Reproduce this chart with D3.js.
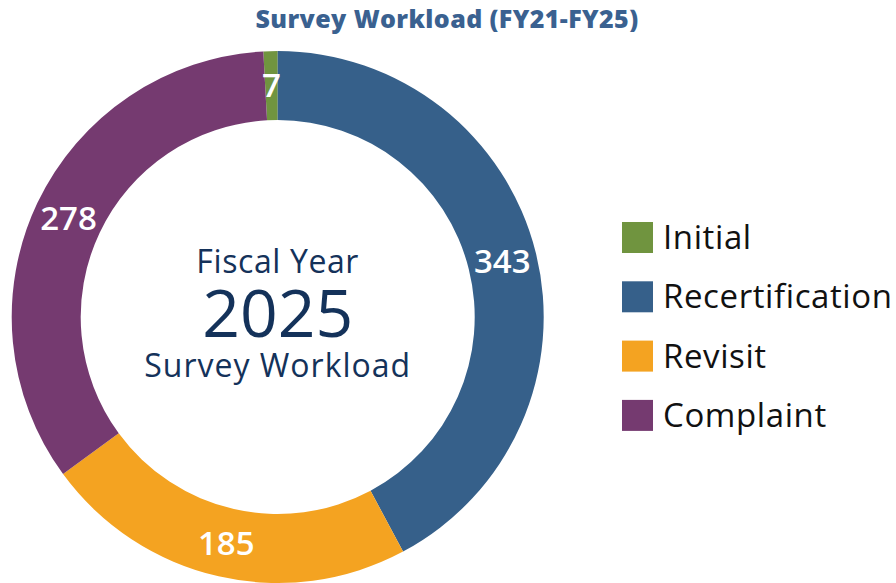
<!DOCTYPE html>
<html>
<head>
<meta charset="utf-8">
<script src="https://d3js.org/d3.v7.min.js"></script>
<style>
  body { margin: 0; background: #fff; }
  text { font-family: "Open Sans", Lato, sans-serif; }
</style>
</head>
<body>
<svg width="896" height="583"></svg>
<script>
 // chart data
 var categories = ["Initial", "Recertification", "Revisit", "Complaint"];
 var values = [7, 343, 185, 278];
 var colors = ["#70943f", "#36608a", "#f4a321", "#753a70"];
 var centerLines = ["Fiscal Year", "2025", "Survey Workload"];
 var title = "Survey Workload (FY21-FY25)";

 var svg = d3.select("svg");
 var cx = 277.7, cy = 317, outerR = 266, innerR = 197;

 svg.append("text")
    .attr("x", 447).attr("y", 28)
    .attr("text-anchor", "middle")
    .attr("font-size", "25px").attr("font-weight", 800)
    .attr("letter-spacing", "0.4px")
    .attr("fill", "#3a6190")
    .text(title);

 // first slice sits just left of 12 o'clock so the second starts at the top
 var offset = values[0] / d3.sum(values) * 2 * Math.PI;
 var pie = d3.pie().sort(null).startAngle(-offset).endAngle(2 * Math.PI - offset);
 var arc = d3.arc().innerRadius(innerR).outerRadius(outerR);
 var arcs = pie(values);

 var g = svg.append("g").attr("transform", "translate(" + cx + "," + cy + ")");
 g.selectAll("path")
    .data(arcs)
    .enter()
    .append("path")
    .attr("d", arc)
    .attr("fill", function (d, i) { return colors[i]; });

 g.selectAll("text.val")
    .data(arcs)
    .enter()
    .append("text")
    .attr("class", "val")
    .attr("transform", function (d) { return "translate(" + arc.centroid(d) + ")"; })
    .attr("text-anchor", "middle")
    .attr("dy", "0.36em")
    .attr("font-size", "33px").attr("font-weight", 600)
    .attr("fill", "#fff")
    .text(function (d) { return d.data; });

 // centre text
 var mid = svg.append("g").attr("fill", "#14325a").attr("text-anchor", "middle");
 mid.append("text").attr("x", cx).attr("y", 273).attr("font-size", "32px")
    .attr("letter-spacing", "0.6px").text(centerLines[0]);
 mid.append("text").attr("x", cx).attr("y", 337).attr("font-size", "66px").text(centerLines[1]);
 mid.append("text").attr("x", cx).attr("y", 377).attr("font-size", "32px")
    .attr("letter-spacing", "1px").text(centerLines[2]);

 // legend
 var legend = svg.append("g").attr("transform", "translate(622,222)");
 var rows = legend.selectAll("g")
    .data(categories)
    .enter()
    .append("g")
    .attr("transform", function (d, i) { return "translate(0," + i * 59.3 + ")"; });
 rows.append("rect")
    .attr("width", 31).attr("height", 31)
    .attr("fill", function (d, i) { return colors[i]; });
 rows.append("text")
    .attr("x", 41).attr("y", 27)
    .attr("font-size", "33px")
    .attr("letter-spacing", "0.6px")
    .attr("fill", "#111")
    .text(function (d) { return d; });
</script>
</body>
</html>
